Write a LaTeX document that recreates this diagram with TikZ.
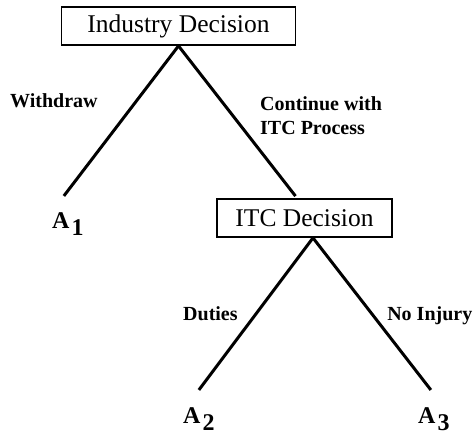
\documentclass[tikz,border=0pt]{standalone}
\usepackage{fontspec}
\setmainfont{Liberation Serif}
\usepackage{tikz}
\usetikzlibrary{positioning}

\newcommand{\outc}[1]{A\hspace{2pt}\raisebox{-7pt}{#1}}

\begin{document}
\begin{tikzpicture}[x=1pt, y=-1pt,
    decision/.style={draw, line width=1.8pt, minimum width=234pt, minimum height=38pt,
                     font=\fontsize{25.5}{30}\selectfont},
    outcome/.style={font=\bfseries\fontsize{24}{30}\selectfont, inner sep=0pt},
    lbl/.style={font=\bfseries\fontsize{20}{24}\selectfont, align=left, inner sep=0pt},
    branch/.style={line width=3pt}
]
\useasboundingbox (0,0) rectangle (473,435);

\node[decision] (ind) at (178.5,26) {Industry Decision};
\node[decision, minimum width=175pt] (itc) at (304.5,218) {ITC Decision};

\node[outcome, anchor=base west] (a1) at (52,229) {\outc{1}};
\node[outcome, anchor=base west] (a2) at (183,423) {\outc{2}};
\node[outcome, anchor=base west] (a3) at (418,423) {\outc{3}};

\draw[branch] (ind.south) -- ([xshift=-4pt,yshift=17pt]a1.north);
\draw[branch] (ind.south) -- ([xshift=-9pt,yshift=2pt]itc.north);
\draw[branch] ([xshift=8.5pt]itc.south) -- ([yshift=17pt]a2.north);
\draw[branch] ([xshift=8.5pt]itc.south) -- ([xshift=-3pt,yshift=17pt]a3.north);

\node[lbl, anchor=base west] (wd) at (10,108) {Withdraw};
\node[lbl, anchor=north west] (cont) at (260,96) {Continue with\\ITC Process};
\node[lbl, anchor=base west] (dut) at (183,320) {Duties};
\node[lbl, anchor=base east] (noinj) at (472.5,320) {No Injury};
\end{tikzpicture}
\end{document}
